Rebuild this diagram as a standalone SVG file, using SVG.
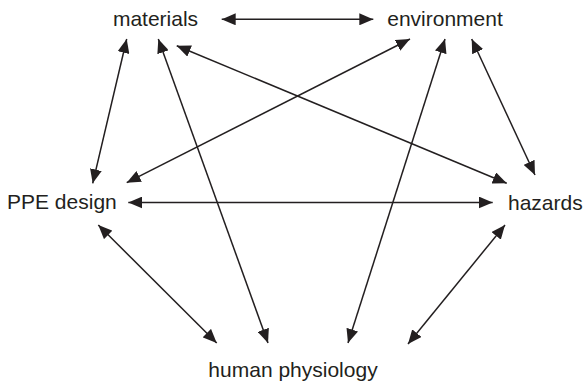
<svg xmlns="http://www.w3.org/2000/svg" width="583" height="383" viewBox="0 0 583 383">
<style>
  .lbl { font-family: "Liberation Sans", Arial, Helvetica, sans-serif; font-size: 21px; fill: #231f20; }
  .conn line { stroke: #231f20; stroke-width: 1.5; fill: none; marker-start: url(#ah); marker-end: url(#ah); }
</style>
<defs>
  <marker id="ah" viewBox="0 0 14 12" refX="14" refY="6" markerWidth="14" markerHeight="12" markerUnits="userSpaceOnUse" orient="auto-start-reverse">
    <path d="M0,0 L14,6 L0,12 Z" fill="#231f20"/>
  </marker>
</defs>
<rect width="583" height="383" fill="#ffffff"/>
<g id="connectors" class="conn">
  <line x1="221.7" y1="19.3" x2="373.3" y2="19.3"/>
  <line x1="126.7" y1="39" x2="92.7" y2="183.3"/>
  <line x1="158.3" y1="39" x2="268" y2="343"/>
  <line x1="176.7" y1="45.7" x2="506.7" y2="183.3"/>
  <line x1="410" y1="39" x2="126.7" y2="182.7"/>
  <line x1="445" y1="39" x2="348" y2="343"/>
  <line x1="471.7" y1="39" x2="535" y2="175"/>
  <line x1="128.3" y1="202.5" x2="492.7" y2="202.5"/>
  <line x1="98.3" y1="225" x2="216.7" y2="343"/>
  <line x1="505" y1="225" x2="408" y2="344"/>
</g>
<g id="materials"><text class="lbl" x="155.5" y="26" text-anchor="middle">materials</text></g>
<g id="environment"><text class="lbl" x="445" y="26" text-anchor="middle">environment</text></g>
<g id="ppe-design"><text class="lbl" x="7" y="209">PPE design</text></g>
<g id="hazards"><text class="lbl" x="508" y="210">hazards</text></g>
<g id="human-physiology"><text class="lbl" x="293" y="377" text-anchor="middle">human physiology</text></g>
</svg>
